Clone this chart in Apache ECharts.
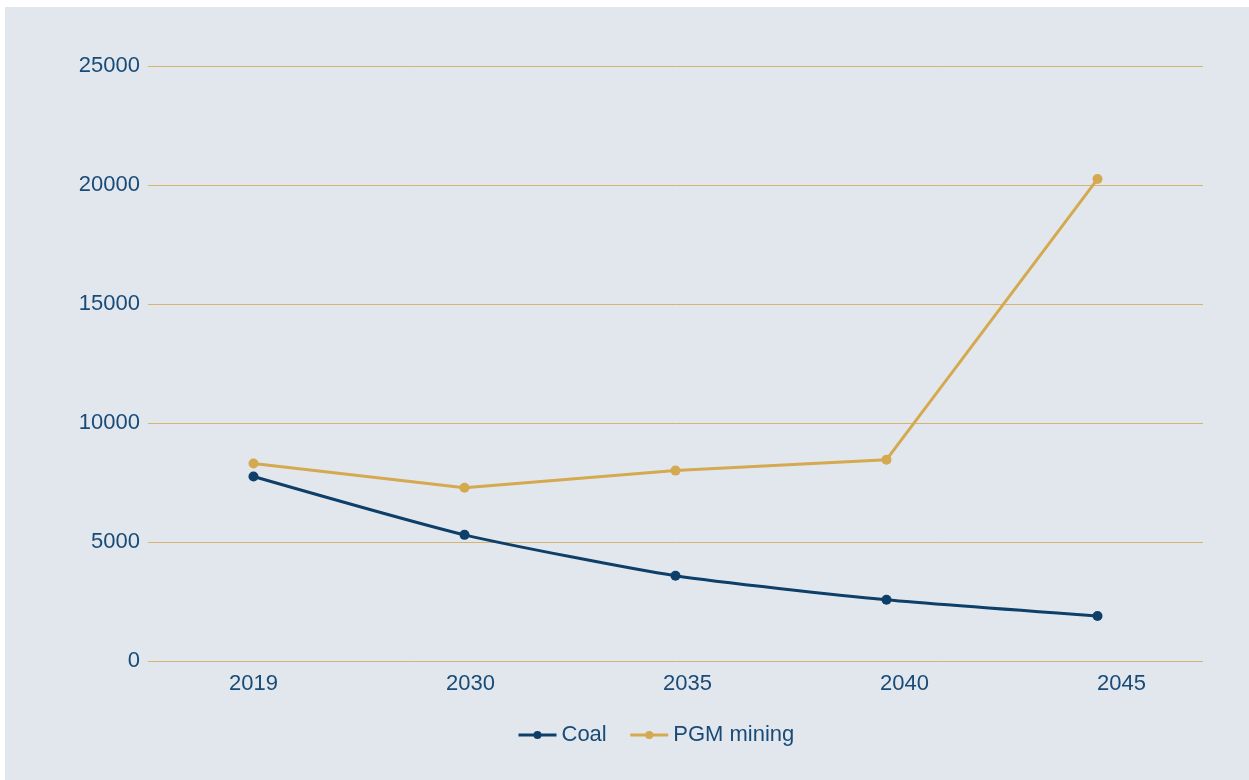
<!DOCTYPE html>
<html>
<head>
<meta charset="utf-8">
<title>Coal vs PGM mining</title>
<script src="https://cdn.jsdelivr.net/npm/echarts@6/dist/echarts.min.js"></script>
<style>
  html, body { margin: 0; padding: 0; background: #ffffff; }
  #chart { position: absolute; left: 5px; top: 7px; width: 1244px; height: 773px; background: #e2e7ee; }
</style>
</head>
<body>
<div id="chart"></div>
<script>
// Projection years and employment figures
const years = ['2019', '2030', '2035', '2040', '2045'];
const coal = [7750, 5300, 3580, 2570, 1890];
const pgmMining = [8300, 7280, 8000, 8460, 20250];
const yTicks = [0, 5000, 10000, 15000, 20000, 25000];

const navy = '#0e3f68';
const gold = '#d4a94f';
const gridGold = '#d3b471';
const textColor = '#184b78';
const font = '"Liberation Sans", Arial, sans-serif';

const yMin = yTicks[0];
const yMax = yTicks[yTicks.length - 1];
const yStep = yTicks[1] - yTicks[0];

// Year labels drift progressively to the right of their points
const labelStyles = {};
years.forEach((y, i) => {
  labelStyles['y' + i] = {
    color: textColor, fontSize: 22, fontFamily: font,
    padding: [0, 0, 0, 12 * i]
  };
});

const chart = echarts.init(document.getElementById('chart'));
chart.setOption({
  animation: false,
  textStyle: { fontFamily: font },
  grid: { left: 143, top: 59, width: 1055, height: 595 },
  legend: {
    left: 507,
    top: 712,
    itemWidth: 38,
    itemHeight: 10,
    itemGap: 22,
    lineStyle: { width: 3 },
    textStyle: { color: textColor, fontSize: 22, fontFamily: font },
    data: ['Coal', 'PGM mining']
  },
  xAxis: {
    type: 'category',
    data: years,
    boundaryGap: true,
    axisLine: { show: false },
    axisTick: { show: false },
    splitLine: { show: false },
    axisLabel: {
      color: textColor, fontSize: 22, margin: 12, fontFamily: font,
      formatter: (v, i) => '{y' + i + '|' + v + '}',
      rich: labelStyles
    }
  },
  yAxis: {
    type: 'value',
    min: yMin,
    max: yMax,
    interval: yStep,
    axisLine: { show: false },
    axisTick: { show: false },
    axisLabel: {
      color: textColor, fontSize: 22, margin: 8, fontFamily: font,
      formatter: (v) => String(v)
    },
    splitLine: { show: true, lineStyle: { color: gridGold, width: 1, opacity: 1 } }
  },
  series: [
    {
      name: 'Coal',
      type: 'line',
      data: coal,
      smooth: 0.2,
      symbol: 'circle',
      symbolSize: 10,
      itemStyle: { color: navy },
      lineStyle: { color: navy, width: 3 }
    },
    {
      name: 'PGM mining',
      type: 'line',
      data: pgmMining,
      symbol: 'circle',
      symbolSize: 10,
      itemStyle: { color: gold },
      lineStyle: { color: gold, width: 3 }
    }
  ]
});
</script>
</body>
</html>
